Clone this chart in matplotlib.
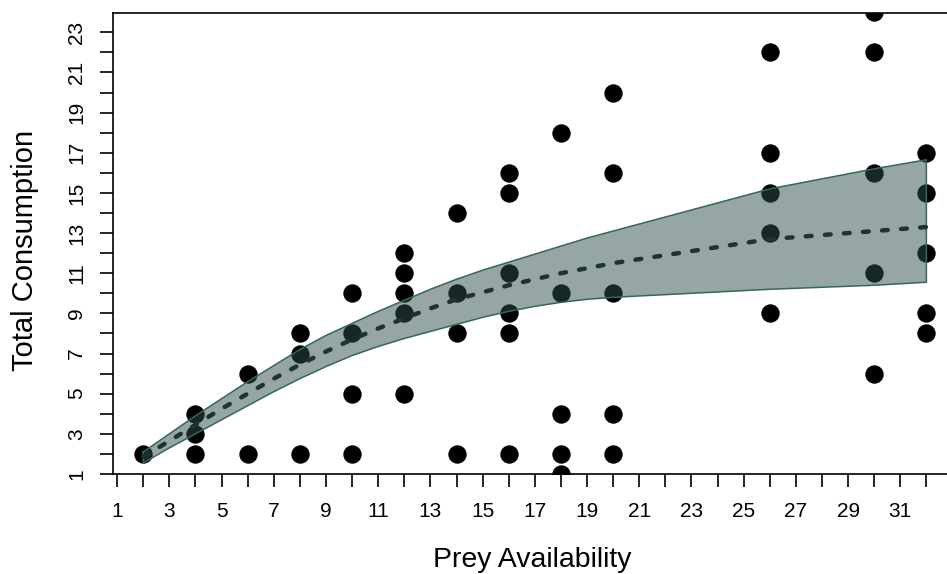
import matplotlib
matplotlib.use("Agg")
import matplotlib.pyplot as plt

plt.rcParams['font.family'] = ['Liberation Sans', 'DejaVu Sans']

# Observed data
obs_x = [2,
         4, 4, 4,
         6, 6,
         8, 8, 8,
         10, 10, 10, 10,
         12, 12, 12, 12, 12,
         14, 14, 14, 14,
         16, 16, 16, 16, 16, 16,
         18, 18, 18, 18, 18,
         20, 20, 20, 20, 20,
         26, 26, 26, 26, 26,
         30, 30, 30, 30, 30,
         32, 32, 32, 32, 32]
obs_y = [2,
         4, 3, 2,
         6, 2,
         8, 7, 2,
         10, 8, 5, 2,
         12, 11, 10, 9, 5,
         14, 10, 8, 2,
         16, 15, 11, 9, 8, 2,
         18, 10, 4, 2, 1,
         20, 16, 10, 4, 2,
         22, 17, 15, 13, 9,
         24, 22, 16, 11, 6,
         17, 15, 12, 9, 8]

# Fitted curve and interval
fit_x = [2, 3, 4, 5, 6, 7, 8, 9, 10, 11, 12, 13, 14, 15, 16, 17, 18, 19, 20,
         26, 30, 32]
fit_mean = [1.85, 2.65, 3.45, 4.25, 5.0, 5.75, 6.45, 7.1, 7.7, 8.25, 8.75, 9.25,
            9.7, 10.05, 10.4, 10.7, 11.0, 11.25, 11.5, 12.7, 13.1, 13.3]
fit_upper = [2.1, 3.0, 3.9, 4.75, 5.6, 6.4, 7.2, 7.9, 8.5, 9.1, 9.65, 10.2,
             10.7, 11.15, 11.55, 11.95, 12.35, 12.75, 13.1, 15.2, 16.2, 16.65]
fit_lower = [1.55, 2.3, 3.0, 3.7, 4.4, 5.1, 5.75, 6.35, 6.9, 7.35, 7.75, 8.1,
             8.45, 8.8, 9.1, 9.35, 9.55, 9.7, 9.8, 10.2, 10.4, 10.55]

xticks = list(range(1, 33))
xtick_labels = [str(v) if v % 2 == 1 else '' for v in xticks]
yticks = list(range(1, 24))
ytick_labels = [str(v) if v % 2 == 1 else '' for v in yticks]

W, H = 947, 574
fig = plt.figure(figsize=(W / 100, H / 100), dpi=100)
ax = fig.add_axes([113 / W, 1 - 474 / H, (947 - 113) / W, (474 - 13) / H])

ax.scatter(obs_x, obs_y, s=175, color='black', zorder=2, linewidths=0)

ax.fill_between(fit_x, fit_lower, fit_upper, facecolor='#2f4f4a', alpha=0.5,
                edgecolor='none', zorder=3)
# band outline (closed polygon)
poly_x = fit_x + fit_x[::-1] + [fit_x[0]]
poly_y = fit_upper + fit_lower[::-1] + [fit_upper[0]]
ax.plot(poly_x, poly_y, color='#356660', lw=1.1, zorder=3.5)
ax.plot(fit_x, fit_mean, color='#1f3330', lw=3.2, linestyle=(0, (1.3, 3.0)),
        dash_capstyle='round', zorder=4)

ax.set_xlim(0.84, 32.79)
ax.set_ylim(1.0, 23.96)

ax.set_xticks(xticks)
ax.set_xticklabels(xtick_labels)
ax.set_yticks(yticks)
ax.set_yticklabels(ytick_labels, rotation=90, va='center')

ax.tick_params(axis='both', direction='out', length=9.5, width=1.2,
               labelsize=15, color='black')
ax.tick_params(axis='x', pad=11)
ax.tick_params(axis='y', pad=10)

for side in ['left', 'bottom', 'top']:
    ax.spines[side].set_linewidth(1.2)
    ax.spines[side].set_color('black')
ax.spines['right'].set_visible(False)

fig.text(532 / W, 1 - 567 / H, 'Prey Availability', fontsize=20.5,
         ha='center', va='baseline')
fig.text(33 / W, 1 - 250 / H, 'Total Consumption', fontsize=21,
         ha='center', va='baseline', rotation=90, rotation_mode='anchor')

fig.savefig('out.png', dpi=100)
